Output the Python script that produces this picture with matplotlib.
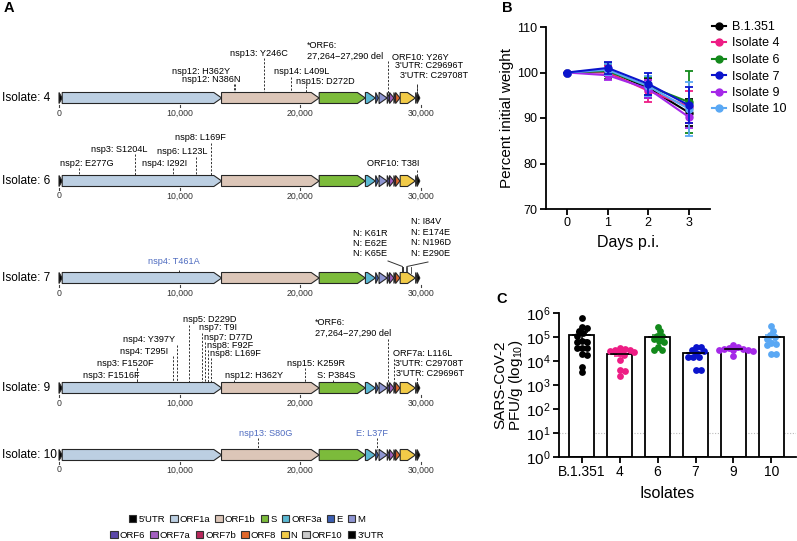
import numpy as np
import matplotlib.pyplot as plt
from matplotlib.patches import Polygon, Patch
from matplotlib.lines import Line2D

plt.rcParams['font.family'] = ['Liberation Sans', 'DejaVu Sans']
plt.rcParams['mathtext.fontset'] = 'custom'
plt.rcParams['mathtext.rm'] = 'Liberation Sans'
plt.rcParams['mathtext.it'] = 'Liberation Sans:italic'

W, H = 797, 541

# ---- panel A data: SARS-CoV-2 genome map ----
GENES = ["5'UTR", "ORF1a", "ORF1b", "S", "ORF3a", "E", "M",
         "ORF6", "ORF7a", "ORF7b", "ORF8", "N", "ORF10", "3'UTR"]
G_START = [1, 266, 13468, 21563, 25393, 26245, 26523, 27202, 27394, 27756, 27894, 28274, 29558, 29675]
G_END = [265, 13483, 21555, 25384, 26220, 26472, 27191, 27387, 27759, 27887, 28259, 29533, 29674, 29903]
G_COLORS = ["#000000", "#bccfe2", "#dcc6b8", "#7cbb3b", "#5bb8d2", "#3c5fb2", "#8e95d2",
            "#5b48a8", "#a35fc0", "#b8285c", "#e0672a", "#f2cb48", "#c9c9c9", "#000000"]
GENOME_TICKS = [0, 10000, 20000, 30000]

ISOLATES = ["4", "6", "7", "9", "10"]

# mutation label, genome position
MUTS = {
    "4": [("nsp12: H362Y", 14528), ("nsp12: N386N", 14600), ("nsp13: Y246C", 16975),
          ("nsp14: L409L", 19267), ("nsp15: D272D", 20437),
          ("*ORF6:\n27,264\u221227,290 del", 27264),
          ("ORF10: Y26Y", 29635), ("3'UTR: C29696T", 29696), ("3'UTR: C29708T", 29708)],
    "6": [("nsp2: E277G", 1637), ("nsp3: S1204L", 6332), ("nsp4: I292I", 9431),
          ("nsp6: L123L", 11342), ("nsp8: L169F", 12599), ("ORF10: T38I", 29671)],
    "7": [("nsp4: T461A", 9938)],
    "9": [("nsp3: F1516F", 6464), ("nsp3: F1520F", 6476), ("nsp4: T295I", 9437),
          ("nsp4: Y397Y", 9743), ("nsp5: D229D", 10739), ("nsp7: T9I", 11867),
          ("nsp7: D77D", 12071), ("nsp8: F92F", 12365), ("nsp8: L169F", 12599),
          ("nsp12: H362Y", 14528), ("nsp15: K259R", 20395), ("S: P384S", 22713),
          ("*ORF6:\n27,264\u221227,290 del", 27264), ("ORF7a: L116L", 27740),
          ("3'UTR: C29708T", 29708), ("3'UTR: C29696T", 29696)],
    "10": [("nsp13: S80G", 16474), ("E: L37F", 26354)],
}
N_LEFT = ["N: K61R", "N: E62E", "N: K65E"]
N_LEFT_POS = [28457, 28460, 28469]
N_RIGHT = ["N: I84V", "N: E174E", "N: N196D", "N: E290E"]
N_RIGHT_POS = [28524, 28796, 28862, 29144]

# ---- panel B data: weight loss ----
DAYS = [0, 1, 2, 3]
GROUPS = ["B.1.351", "Isolate 4", "Isolate 6", "Isolate 7", "Isolate 9", "Isolate 10"]
GROUP_COLORS = ["#000000", "#ee1d85", "#13891b", "#0b14cc", "#a528e8", "#5aa8f4"]
WEIGHT_MEAN = [[100, 100.4, 96.6, 91.2],
               [100, 100.0, 96.0, 92.5],
               [100, 100.3, 97.0, 93.5],
               [100, 101.0, 97.5, 92.8],
               [100, 99.4, 96.4, 90.2],
               [100, 100.6, 97.0, 92.0]]
WEIGHT_ERR = [[0, 1.2, 2.2, 3.0],
              [0, 1.5, 2.4, 3.5],
              [0, 1.8, 2.0, 6.8],
              [0, 1.3, 2.4, 4.0],
              [0, 1.0, 2.0, 2.5],
              [0, 1.2, 2.2, 6.0]]

# ---- panel C data: lung titres ----
C_LABELS = ["B.1.351", "4", "6", "7", "9", "10"]
PFU = [
    [6.2e5, 2.5e5, 2.4e5, 1.7e5, 1.4e5, 1.1e5, 6.6e4, 6.3e4, 6.0e4, 3.6e4, 3.5e4, 3.4e4,
     1.95e4, 1.7e4, 5.4e3, 3.4e3],
    [3.5e4, 3.2e4, 3.0e4, 3.0e4, 2.6e4, 2.4e4, 2.2e4, 1.7e4, 1.15e4, 4.2e3, 3.8e3, 2.3e3],
    [2.6e5, 1.7e5, 1.15e5, 1.1e5, 8.0e4, 6.9e4, 6.0e4, 3.9e4, 3.0e4, 2.8e4],
    [3.9e4, 3.8e4, 3.0e4, 2.6e4, 2.2e4, 1.5e4, 1.45e4, 1.4e4, 4.4e3, 4.2e3],
    [4.6e4, 3.8e4, 3.6e4, 3.3e4, 3.2e4, 3.0e4, 2.9e4, 2.8e4, 2.6e4, 1.6e4],
    [2.8e5, 1.8e5, 1.2e5, 1.0e5, 8.5e4, 5.7e4, 5.0e4, 4.6e4, 2.0e4, 1.9e4],
]
LOD = 10

fig = plt.figure(figsize=(W / 100, H / 100), dpi=100)


def px_axes(l, t, r, b):
    return fig.add_axes([l / W, 1 - b / H, (r - l) / W, (b - t) / H])


# ================= panel A =================
PX = 362 / 30000.0   # pixels per nucleotide
X0 = 59              # pixel of position 0
axA = fig.add_axes([0, 0, 1, 1])
axA.set_xlim(-X0 / PX, (W - X0) / PX)
axA.set_ylim(H, 0)
axA.axis('off')

TRACK_Y = [98, 181, 278, 388, 455]
TH = 11
HEAD = 650
BLUE_TXT = "#4f6cc0"
FS_MUT = 6.6


def nt(xpx):
    return (xpx - X0) / PX


# label layout: (left px, centre y px, line top px, colour)
LAYOUT = {
    "4": [(172, 71, 84, 'k'), (182, 80, 84, 'k'), (230, 53, 58, 'k'), (274, 72, 77, 'k'),
          (296, 81, 86, 'k'), (307, 51, 61, 'k'), (392, 57, 84, 'k'), (395, 66, 85, 'k'),
          (400, 76, 85, 'k')],
    "6": [(60, 163, 168, 'k'), (91, 149, 154, 'k'), (142, 163, 168, 'k'), (157, 152, 157, 'k'),
          (175, 138, 143, 'k'), (367, 164, 170, 'k')],
    "7": [(148, 262, 270, BLUE_TXT)],
    "9": [(83, 375, 368, 'k'), (97, 363, 368, 'k'), (120, 351, 356, 'k'), (123, 340, 345, 'k'),
          (183, 320, 325, 'k'), (199, 328, 333, 'k'), (204, 337, 342, 'k'), (207, 345, 350, 'k'),
          (210, 353, 358, 'k'), (225, 375, 380, 'k'), (287, 363, 368, 'k'), (317, 375, 380, 'k'),
          (315, 328, 339, 'k'), (393, 354, 359, 'k'), (395, 363, 378, 'k'), (396, 373, 378, 'k')],
    "10": [(239, 433, 438, BLUE_TXT), (356, 433, 438, BLUE_TXT)],
}

for iso, ty in zip(ISOLATES, TRACK_Y):
    axA.text(nt(2), ty, "Isolate: " + iso, fontsize=8.6, ha='left', va='center')
    for g, s, e, c in zip(GENES, G_START, G_END, G_COLORS):
        hl = min(HEAD, e - s)
        pts = [(s, ty - TH / 2), (e - hl, ty - TH / 2), (e, ty), (e - hl, ty + TH / 2), (s, ty + TH / 2)]
        axA.add_patch(Polygon(pts, closed=True, fc=c, ec='#262626', lw=0.8, zorder=3))
    for t in GENOME_TICKS:
        axA.plot([t, t], [ty + TH / 2 + 1, ty + TH / 2 + 3], color='#444444', lw=0.8)
        axA.text(t, ty + 15, "{:,}".format(t), fontsize=6.3, ha='center', va='center', color='#333333')
    for (lab, pos), (lx, ly, ltop, col) in zip(MUTS[iso], LAYOUT[iso]):
        axA.text(nt(lx), ly, lab, fontsize=FS_MUT, ha='left', va='center', color=col,
                 linespacing=1.35, multialignment='left')
        axA.plot([pos, pos], [ltop, ty - TH / 2], color='#333333', lw=0.7,
                 ls=(0, (2.2, 1.6)), zorder=2)

# isolate 7 nucleocapsid mutations with leader lines
ty7 = TRACK_Y[2]
axA.text(nt(353), 243.5, "\n".join(N_LEFT), fontsize=FS_MUT, ha='left', va='center', linespacing=1.2)
axA.text(nt(411), 237.5, "\n".join(N_RIGHT), fontsize=FS_MUT, ha='left', va='center', linespacing=1.2)
axA.plot([nt(388), np.mean(N_LEFT_POS)], [261, 266.5], color='#333333', lw=0.7)
axA.plot([nt(428), np.mean(N_RIGHT_POS)], [262, 266.5], color='#333333', lw=0.7)
for pos in N_LEFT_POS + N_RIGHT_POS:
    axA.plot([pos, pos], [267, ty7 - TH / 2], color='#333333', lw=0.6, zorder=2)

# gene legend, two centred rows
handles = [Patch(fc=c, ec='#333333', lw=0.8) for c in G_COLORS]
leg_kw = dict(frameon=False, fontsize=6.8, handlelength=0.8, handleheight=0.8,
              handletextpad=0.2, columnspacing=0.55, borderaxespad=0, borderpad=0)
leg1 = axA.legend(handles[:7], GENES[:7], ncol=7, loc='center',
                  bbox_to_anchor=(247 / W, 1 - 519 / H), bbox_transform=fig.transFigure, **leg_kw)
axA.add_artist(leg1)
axA.legend(handles[7:], GENES[7:], ncol=7, loc='center',
           bbox_to_anchor=(247 / W, 1 - 535 / H), bbox_transform=fig.transFigure, **leg_kw)

# ================= panel B =================
axB = px_axes(546, 27, 710, 209)
order = [0, 1, 2, 4, 5, 3]
for i in order:
    axB.errorbar(DAYS, WEIGHT_MEAN[i], yerr=WEIGHT_ERR[i], color=GROUP_COLORS[i], marker='o',
                 ms=5, lw=1.5, capsize=3, capthick=1.3, elinewidth=1.3, zorder=3 + order.index(i))
axB.set_xlim(-0.52, 3.52)
axB.set_ylim(70, 110)
axB.set_xticks(DAYS)
axB.set_yticks([70, 80, 90, 100, 110])
for sp in ['top', 'right']:
    axB.spines[sp].set_visible(False)
for sp in ['left', 'bottom']:
    axB.spines[sp].set_linewidth(1.3)
axB.tick_params(labelsize=9, width=1.3, length=4, pad=2)
fig.text(507 / W, 1 - 118 / H, "Percent initial weight", rotation=90, ha='center', va='center', fontsize=11)
fig.text(628 / W, 1 - 242 / H, "Days p.i.", ha='center', va='center', fontsize=11.5)
legB = [Line2D([0], [0], color=c, marker='o', ms=5, lw=1.5) for c in GROUP_COLORS]
axB.legend(legB, GROUPS, loc='upper left', bbox_to_anchor=(712 / W, 1 - 21 / H),
           bbox_transform=fig.transFigure, frameon=False, fontsize=9, handlelength=1.1,
           handletextpad=0.5, labelspacing=0.36, borderpad=0, borderaxespad=0)

# ================= panel C =================
axC = px_axes(559, 313, 796, 457)
XL = (-0.6, 5.65)
axC.set_xlim(*XL)
axC.set_yscale('log')
axC.set_ylim(1, 1e6)
PXU = (796 - 559) / (XL[1] - XL[0])
PXD = (457 - 313) / 6.0
DIAM = 4.8


def swarm(vals):
    ys = np.log10(vals) * PXD
    cand = [0.0]
    for k in np.arange(0.5, 30, 0.5):
        cand += [k, -k]
    placed = []
    xs = np.zeros(len(vals))
    for i in np.argsort(-ys):
        for off in cand:
            if all((off - px) ** 2 + (ys[i] - py) ** 2 >= DIAM ** 2 for px, py in placed):
                break
        xs[i] = off
        placed.append((off, ys[i]))
    return xs / PXU


axC.axhline(LOD, color='#bbbbbb', lw=0.8, ls=(0, (1, 1.5)), zorder=0)
for i, vals in enumerate(PFU):
    v = np.array(vals)
    m = v.mean()
    sem = v.std(ddof=1) / np.sqrt(len(v))
    axC.bar(i, m - 1, bottom=1, width=0.66, color='white', edgecolor='black', lw=1.3, zorder=1)
    axC.scatter(i + swarm(v), v, s=24, color=GROUP_COLORS[i], zorder=3, linewidths=0)
    axC.errorbar(i, m, yerr=sem, color=GROUP_COLORS[i] if i > 0 else 'black', capsize=4,
                 elinewidth=1.1, capthick=1.1, zorder=4)
    axC.plot([i - 0.22, i + 0.22], [m, m], color='black', lw=1.2, zorder=4)
axC.set_xticks(range(len(C_LABELS)))
axC.set_xticklabels(C_LABELS)
axC.set_yticks([10.0 ** k for k in range(7)])
axC.set_yticklabels([r'$\mathregular{10^{%d}}$' % k for k in range(7)])
axC.minorticks_off()
for sp in ['top', 'right']:
    axC.spines[sp].set_visible(False)
for sp in ['left', 'bottom']:
    axC.spines[sp].set_linewidth(1.3)
axC.tick_params(axis='x', labelsize=10, width=1.3, length=4, pad=2)
axC.tick_params(axis='y', labelsize=11, width=1.3, length=4, pad=2)
fig.text(509 / W, 1 - 385 / H, "SARS-CoV-2\nPFU/g (log$_{10}$)", rotation=90, ha='center',
         va='center', fontsize=11, multialignment='center', linespacing=1.0)
fig.text(667 / W, 1 - 493 / H, "Isolates", ha='center', va='center', fontsize=11.5)

# panel letters
fig.text(9 / W, 1 - 8 / H, "A", fontsize=10.5, fontweight='bold', ha='center', va='center')
fig.text(507 / W, 1 - 8 / H, "B", fontsize=10.5, fontweight='bold', ha='center', va='center')
fig.text(502 / W, 1 - 299 / H, "C", fontsize=10.5, fontweight='bold', ha='center', va='center')

fig.savefig("out.png", dpi=100)
